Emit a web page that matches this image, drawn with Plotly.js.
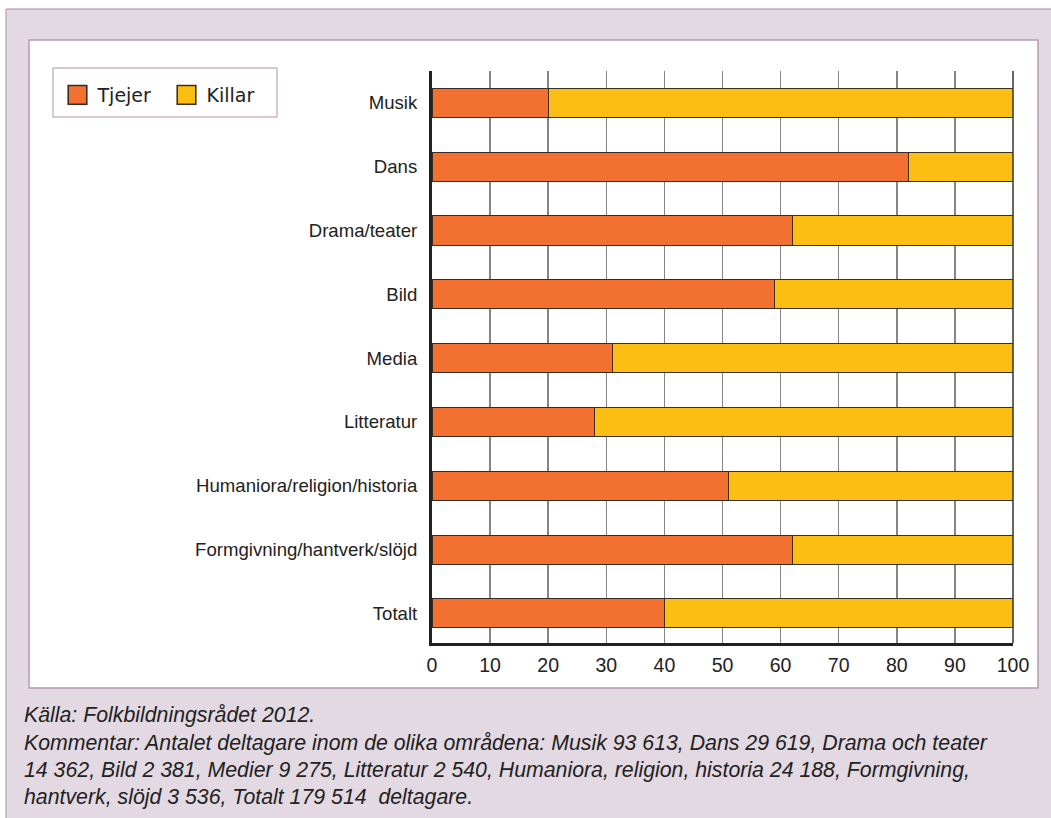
<!DOCTYPE html>
<html>
<head>
<meta charset="utf-8">
<script src="https://cdn.plot.ly/plotly-3.0.1.min.js"></script>
<style>
  html, body { margin: 0; padding: 0; background: #ffffff; }
  #chart { width: 1051px; height: 818px; }
</style>
</head>
<body>
<div id="chart"></div>
<script>
// ---- Data (percent) ----
const categories = [
  "Musik",
  "Dans",
  "Drama/teater",
  "Bild",
  "Media",
  "Litteratur",
  "Humaniora/religion/historia",
  "Formgivning/hantverk/slöjd",
  "Totalt"
];
const tjejer = [20, 82, 62, 59, 31, 28, 51, 62, 40];
const killar = [80, 18, 38, 41, 69, 72, 49, 38, 60];
const seriesNames = ["Tjejer", "Killar"];
const xTickValues = [0, 10, 20, 30, 40, 50, 60, 70, 80, 90, 100];
const sourceNote = [
  "Källa: Folkbildningsrådet 2012.",
  "Kommentar: Antalet deltagare inom de olika områdena: Musik 93 613, Dans 29 619, Drama och teater",
  "14 362, Bild 2 381, Medier 9 275, Litteratur 2 540, Humaniora, religion, historia 24 188, Formgivning,",
  "hantverk, slöjd 3 536, Totalt 179 514  deltagare."
];

// ---- Styles ----
const ORANGE = "#f37130";
const YELLOW = "#fdbe14";
const TEXT = "#222222";
const FRAME_BG = "#e2d9e2";
const FRAME_LINE = "#a98aa9";

const W = 1051, H = 818;
const M = { l: 432, r: 38, t: 71, b: 175 };
const PW = W - M.l - M.r, PH = H - M.t - M.b;
const px = x => (x - M.l) / PW;          // pixel -> paper x
const py = y => (H - M.b - y) / PH;      // pixel -> paper y

const traces = [
  {
    type: "bar", orientation: "h", name: seriesNames[0],
    y: categories, x: tjejer,
    marker: { color: ORANGE, line: { color: "#3a2a20", width: 1 } },
    hoverinfo: "x+y+name"
  },
  {
    type: "bar", orientation: "h", name: seriesNames[1],
    y: categories, x: killar,
    marker: { color: YELLOW, line: { color: "#3a3020", width: 1 } },
    hoverinfo: "x+y+name"
  }
];

const annotations = sourceNote.map((t, i) => ({
  text: t, xref: "paper", yref: "paper",
  x: px(22), y: py([715, 743, 770, 797][i]),
  xanchor: "left", yanchor: "middle", showarrow: false, align: "left",
  font: { family: "Liberation Sans, Arial, sans-serif", size: 21.3, color: TEXT, style: "italic" }
}));

const layout = {
  width: W, height: H,
  margin: M,
  paper_bgcolor: "#ffffff",
  plot_bgcolor: "#ffffff",
  barmode: "stack",
  bargap: 0.545,
  showlegend: true,
  legend: {
    orientation: "h", x: px(57.5), y: py(76), xanchor: "left", yanchor: "top",
    bgcolor: "rgba(0,0,0,0)", borderwidth: 0,
    entrywidth: 64, entrywidthmode: "pixels",
    traceorder: "normal",
    font: { family: "DejaVu Sans, Verdana, sans-serif", size: 19, color: TEXT }
  },
  xaxis: {
    range: [0, 100], tickmode: "array", tickvals: xTickValues,
    ticktext: xTickValues.map(String),
    showgrid: true, gridcolor: "#858585", gridwidth: 1.5,
    zeroline: false, showline: true, linecolor: "#222222", linewidth: 3,
    ticks: "outside", ticklen: 3, tickcolor: "rgba(0,0,0,0)",
    tickfont: { family: "Liberation Sans, Arial, sans-serif", size: 19.5, color: TEXT },
    fixedrange: true
  },
  yaxis: {
    type: "category", categoryorder: "array", categoryarray: categories,
    range: [8.465, -0.5],
    showgrid: false, zeroline: false,
    showline: true, linecolor: "#222222", linewidth: 3,
    ticks: "outside", ticklen: 8, tickcolor: "rgba(0,0,0,0)",
    tickfont: { family: "Liberation Sans, Arial, sans-serif", size: 18.6, color: TEXT },
    fixedrange: true
  },
  shapes: [
    { type: "rect", xref: "paper", yref: "paper", layer: "below",
      x0: px(6), x1: px(1075), y0: py(835), y1: py(9),
      fillcolor: FRAME_BG, line: { color: FRAME_LINE, width: 1 } },
    { type: "rect", xref: "paper", yref: "paper", layer: "below",
      x0: px(29), x1: px(1038), y0: py(688), y1: py(40),
      fillcolor: "#ffffff", line: { color: "#b59bb5", width: 1.5 } },
    { type: "rect", xref: "paper", yref: "paper", layer: "below",
      x0: px(53), x1: px(277), y0: py(117), y1: py(68),
      fillcolor: "#ffffff", line: { color: "#b08fb0", width: 1 } },
    { type: "line", xref: "paper", yref: "paper", layer: "above",
      x0: 1, x1: 1, y0: 0, y1: 1,
      line: { color: "#333333", width: 1.5 } }
  ],
  annotations: annotations
};

Plotly.newPlot("chart", traces, layout, { displayModeBar: false, staticPlot: true }).then(() => {
  document.querySelectorAll("#chart .legendpoints path").forEach(p => {
    const t = p.getAttribute("transform") || "";
    p.setAttribute("transform", (t + " scale(1.55)").trim());
  });
});
</script>
</body>
</html>
